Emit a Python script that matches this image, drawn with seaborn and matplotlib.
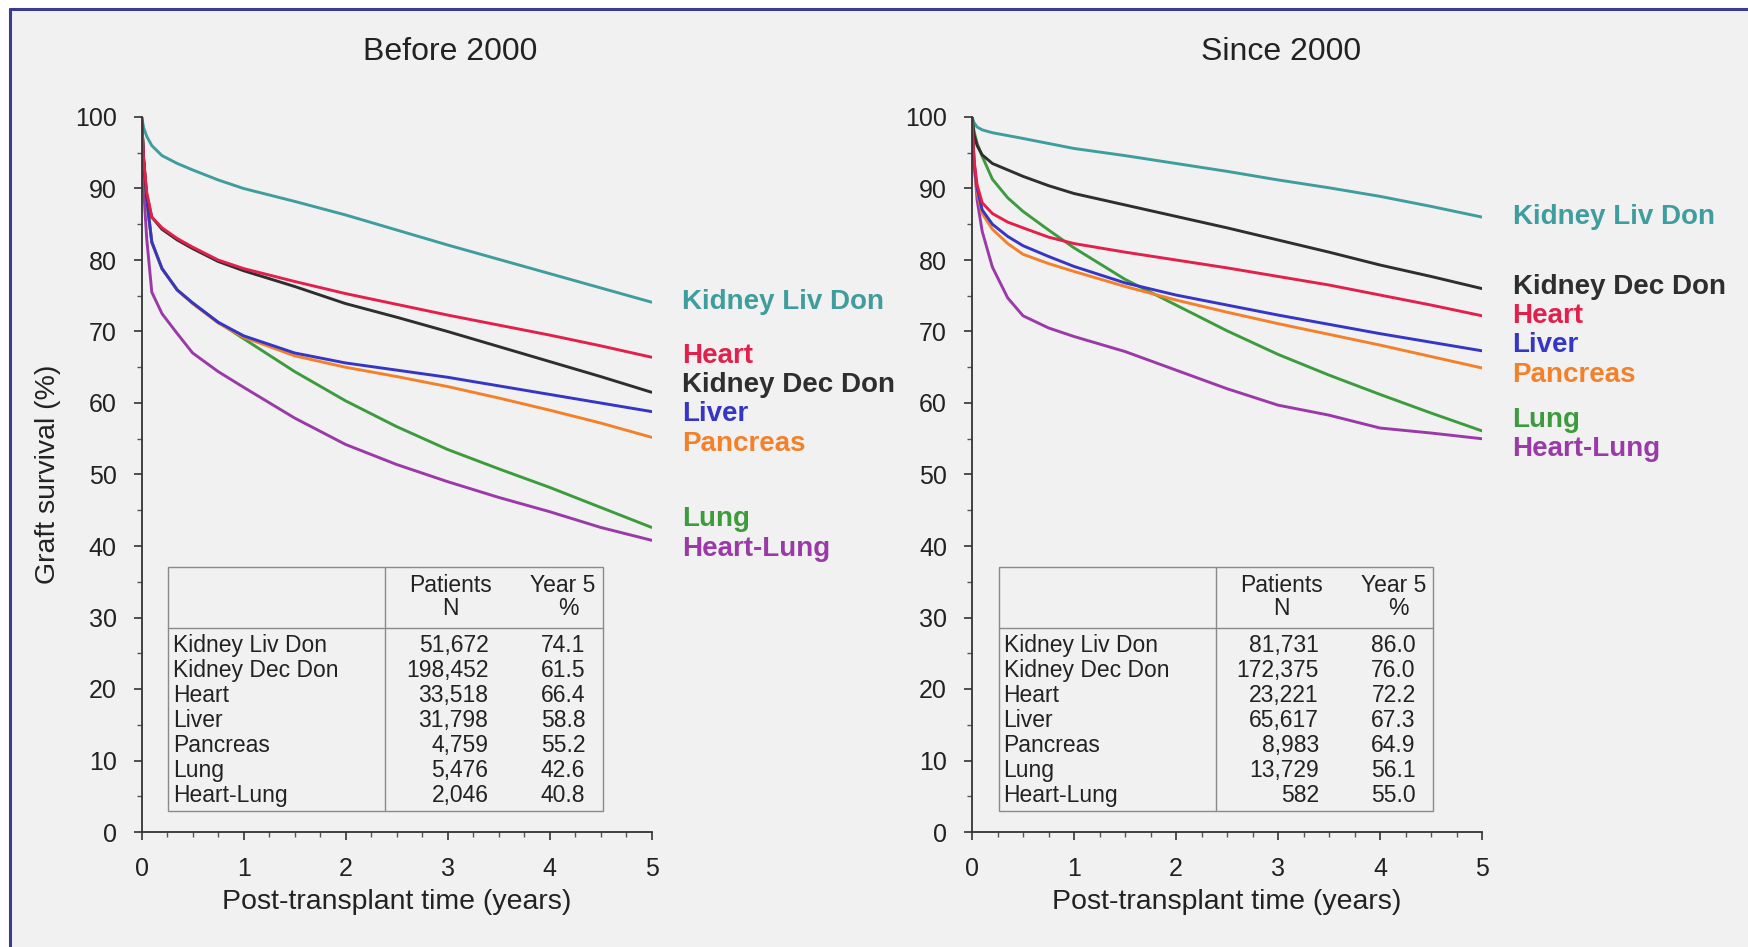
import numpy as np
import pandas as pd
import matplotlib
matplotlib.use("Agg")
import matplotlib.pyplot as plt
from matplotlib.patches import Rectangle
from matplotlib.lines import Line2D
from matplotlib.ticker import MultipleLocator
import seaborn as sns

# ---------------- data ----------------
organs = ["Kidney Liv Don", "Kidney Dec Don", "Heart", "Liver",
          "Pancreas", "Lung", "Heart-Lung"]

years = [0, 0.02, 0.05, 0.1, 0.2, 0.35, 0.5, 0.75, 1, 1.5, 2, 2.5, 3, 3.5, 4, 4.5, 5]

# Graft survival (%) before 2000
pre_kidney_liv = [100, 98.5, 97.3, 96.0, 94.6, 93.5, 92.6, 91.2, 90.0, 88.2, 86.3, 84.2, 82.1, 80.1, 78.1, 76.1, 74.1]
pre_kidney_dec = [100, 94.0, 89.0, 86.0, 84.3, 82.8, 81.6, 79.8, 78.5, 76.3, 73.9, 72.0, 70.0, 67.9, 65.8, 63.7, 61.5]
pre_heart      = [100, 94.0, 89.5, 86.0, 84.5, 83.0, 81.8, 80.0, 78.8, 77.0, 75.3, 73.8, 72.3, 70.9, 69.5, 68.0, 66.4]
pre_liver      = [100, 94.0, 88.5, 82.5, 78.8, 75.8, 74.0, 71.3, 69.4, 67.0, 65.6, 64.6, 63.6, 62.4, 61.2, 60.0, 58.8]
pre_pancreas   = [100, 94.0, 88.5, 82.5, 78.8, 75.8, 73.9, 71.2, 69.2, 66.6, 65.0, 63.7, 62.3, 60.7, 59.0, 57.2, 55.2]
pre_lung       = [100, 94.0, 88.5, 82.5, 78.8, 75.8, 74.0, 71.3, 69.0, 64.4, 60.3, 56.7, 53.5, 50.8, 48.2, 45.4, 42.6]
pre_heart_lung = [100, 90.0, 83.0, 75.5, 72.5, 69.7, 67.0, 64.4, 62.2, 57.9, 54.2, 51.4, 49.0, 46.8, 44.8, 42.6, 40.8]

# Graft survival (%) since 2000
post_kidney_liv = [100, 99.2, 98.6, 98.2, 97.8, 97.4, 97.0, 96.3, 95.6, 94.6, 93.5, 92.4, 91.2, 90.1, 88.9, 87.5, 86.0]
post_kidney_dec = [100, 97.5, 96.0, 94.7, 93.5, 92.6, 91.7, 90.4, 89.3, 87.7, 86.1, 84.5, 82.8, 81.1, 79.3, 77.7, 76.0]
post_heart      = [100, 94.0, 90.5, 88.0, 86.5, 85.3, 84.5, 83.2, 82.3, 81.1, 80.0, 78.9, 77.7, 76.5, 75.1, 73.7, 72.2]
post_liver      = [100, 93.5, 90.0, 87.0, 85.0, 83.3, 82.0, 80.5, 79.1, 76.8, 75.1, 73.7, 72.3, 71.0, 69.7, 68.5, 67.3]
post_pancreas   = [100, 93.0, 89.5, 86.5, 84.3, 82.3, 80.8, 79.5, 78.4, 76.3, 74.4, 72.7, 71.1, 69.6, 68.1, 66.5, 64.9]
post_lung       = [100, 98.0, 96.3, 94.5, 91.3, 88.7, 86.8, 84.2, 81.7, 77.3, 73.7, 70.1, 66.8, 63.9, 61.2, 58.6, 56.1]
post_heart_lung = [100, 94.0, 88.4, 84.0, 79.0, 74.7, 72.2, 70.5, 69.3, 67.2, 64.6, 62.0, 59.7, 58.3, 56.5, 55.8, 55.0]

# Summary table
pre_patients  = ["51,672", "198,452", "33,518", "31,798", "4,759", "5,476", "2,046"]
pre_year5     = ["74.1", "61.5", "66.4", "58.8", "55.2", "42.6", "40.8"]
post_patients = ["81,731", "172,375", "23,221", "65,617", "8,983", "13,729", "582"]
post_year5    = ["86.0", "76.0", "72.2", "67.3", "64.9", "56.1", "55.0"]

panel_titles = ["Before 2000", "Since 2000"]

colors = {
    "Kidney Liv Don": "#3f9d9d",
    "Kidney Dec Don": "#2e2e2e",
    "Heart": "#e2204b",
    "Liver": "#3535c6",
    "Pancreas": "#f4802a",
    "Lung": "#3d9b3d",
    "Heart-Lung": "#9a3aa8",
}
draw_order = ["Kidney Liv Don", "Heart-Lung", "Lung", "Pancreas", "Liver",
              "Kidney Dec Don", "Heart"]


def long_frame(series):
    rows = []
    for organ, vals in zip(organs, series):
        for t, v in zip(years, vals):
            rows.append((organ, t, v))
    return pd.DataFrame(rows, columns=["organ", "years", "survival"])


pre_df = long_frame([pre_kidney_liv, pre_kidney_dec, pre_heart, pre_liver,
                     pre_pancreas, pre_lung, pre_heart_lung])
post_df = long_frame([post_kidney_liv, post_kidney_dec, post_heart, post_liver,
                      post_pancreas, post_lung, post_heart_lung])


def spread_labels(values, gap):
    """Place end labels at their curve values, pushing apart those that collide."""
    order = sorted(range(len(values)), key=lambda i: -values[i])
    clusters = [[i] for i in order]

    def positions(cl):
        c = np.mean([values[i] for i in cl])
        n = len(cl)
        return [c + gap * ((n - 1) / 2 - k) for k in range(n)]

    merged = True
    while merged:
        merged = False
        for j in range(len(clusters) - 1):
            low_of_upper = positions(clusters[j])[-1]
            top_of_lower = positions(clusters[j + 1])[0]
            if low_of_upper - top_of_lower < gap:
                clusters[j] = clusters[j] + clusters[j + 1]
                del clusters[j + 1]
                merged = True
                break
    out = [0.0] * len(values)
    for cl in clusters:
        for i, p in zip(cl, positions(cl)):
            out[i] = p
    return out


# ---------------- figure ----------------
sns.set_theme(style="white")
plt.rcParams["font.family"] = ["Liberation Sans", "DejaVu Sans"]

fig = plt.figure(figsize=(17.48, 9.47), dpi=100, facecolor="white")
W, H = 1748, 947

# panel background with its frame on the left and top
fig.patches.append(Rectangle((10 / W, 0), 1, 1 - 10 / H, transform=fig.transFigure,
                             facecolor="#f1f1f1", edgecolor="none", zorder=-5))
fig.lines.append(Line2D([10 / W, 10 / W], [0, 1 - 9 / H], transform=fig.transFigure,
                        color="#3b3b8f", lw=2.2, zorder=-4))
fig.lines.append(Line2D([10 / W, 1], [1 - 9 / H, 1 - 9 / H], transform=fig.transFigure,
                        color="#3b3b8f", lw=2.2, zorder=-4))

ax_w = 510 / W
ax_h = 715 / H
ax_b = 1 - 832 / H
axes = [fig.add_axes([141.6 / W, ax_b, ax_w, ax_h]),
        fig.add_axes([972 / W, ax_b, ax_w, ax_h])]

tables = [(pre_patients, pre_year5), (post_patients, post_year5)]
frames = [pre_df, post_df]
ends = [[pre_kidney_liv[-1], pre_kidney_dec[-1], pre_heart[-1], pre_liver[-1],
         pre_pancreas[-1], pre_lung[-1], pre_heart_lung[-1]],
        [post_kidney_liv[-1], post_kidney_dec[-1], post_heart[-1], post_liver[-1],
         post_pancreas[-1], post_lung[-1], post_heart_lung[-1]]]

text_color = "#222222"
grid_color = "#8a8a8a"

for k, ax in enumerate(axes):
    ax.set_facecolor("none")
    sns.lineplot(data=frames[k], x="years", y="survival", hue="organ",
                 hue_order=draw_order, palette=colors, linewidth=2.1,
                 legend=False, ax=ax, estimator=None, sort=False)

    ax.set_xlim(0, 5)
    ax.set_ylim(0, 100)
    ax.xaxis.set_major_locator(MultipleLocator(1))
    ax.xaxis.set_minor_locator(MultipleLocator(0.25))
    ax.yaxis.set_major_locator(MultipleLocator(10))
    ax.yaxis.set_minor_locator(MultipleLocator(5))
    for side in ("top", "right"):
        ax.spines[side].set_visible(False)
    for side in ("left", "bottom"):
        ax.spines[side].set_color("#333333")
        ax.spines[side].set_linewidth(1.3)
    ax.tick_params(which="major", direction="out", length=6, width=1.2,
                   color="#333333", labelsize=18, labelcolor=text_color, pad=12)
    ax.tick_params(which="minor", direction="out", length=3.5, width=1.0,
                   color="#555555")
    ax.tick_params(axis="x", which="both", bottom=True)
    ax.tick_params(axis="y", which="both", left=True)
    ax.set_xlabel("Post-transplant time (years)", fontsize=20.5, color=text_color,
                  labelpad=6)
    if k == 0:
        ax.set_ylabel("Graft survival (%)", fontsize=20.5, color=text_color,
                      labelpad=10)
    else:
        ax.set_ylabel("")

    ax.text(0.606, 1.091, panel_titles[k], transform=ax.transAxes,
            ha="center", va="center", fontsize=23, color=text_color)

    # organ names at the end of each curve
    label_y = spread_labels(ends[k], 4.1)
    for organ, y in zip(organs, label_y):
        ax.text(5.3, y, organ, ha="left", va="center", fontsize=20,
                fontweight="bold", color=colors[organ], clip_on=False)

    # summary table
    x0, x1, xs = 0.26, 4.52, 2.39
    y0, y1, yh = 2.96, 37.0, 28.5
    ax.add_patch(Rectangle((x0, y0), x1 - x0, y1 - y0, facecolor="none",
                           edgecolor=grid_color, lw=1.0, zorder=3))
    ax.plot([x0, x1], [yh, yh], color=grid_color, lw=1.0, zorder=3)
    ax.plot([xs, xs], [y0, y1], color=grid_color, lw=1.0, zorder=3)
    fs = 16.5
    ax.text(3.03, 34.5, "Patients", ha="center", va="center", fontsize=fs, color=text_color)
    ax.text(3.03, 31.2, "N", ha="center", va="center", fontsize=fs, color=text_color)
    ax.text(4.13, 34.5, "Year 5", ha="center", va="center", fontsize=fs, color=text_color)
    ax.text(4.18, 31.2, "%", ha="center", va="center", fontsize=fs, color=text_color)
    patients, year5 = tables[k]
    for i, organ in enumerate(organs):
        y = 26.1 - 3.5 * i
        ax.text(x0 + 0.05, y, organ, ha="left", va="center", fontsize=fs, color=text_color)
        ax.text(3.40, y, patients[i], ha="right", va="center", fontsize=fs, color=text_color)
        ax.text(4.35, y, year5[i], ha="right", va="center", fontsize=fs, color=text_color)

fig.savefig("out.png", dpi=100, facecolor="white")
